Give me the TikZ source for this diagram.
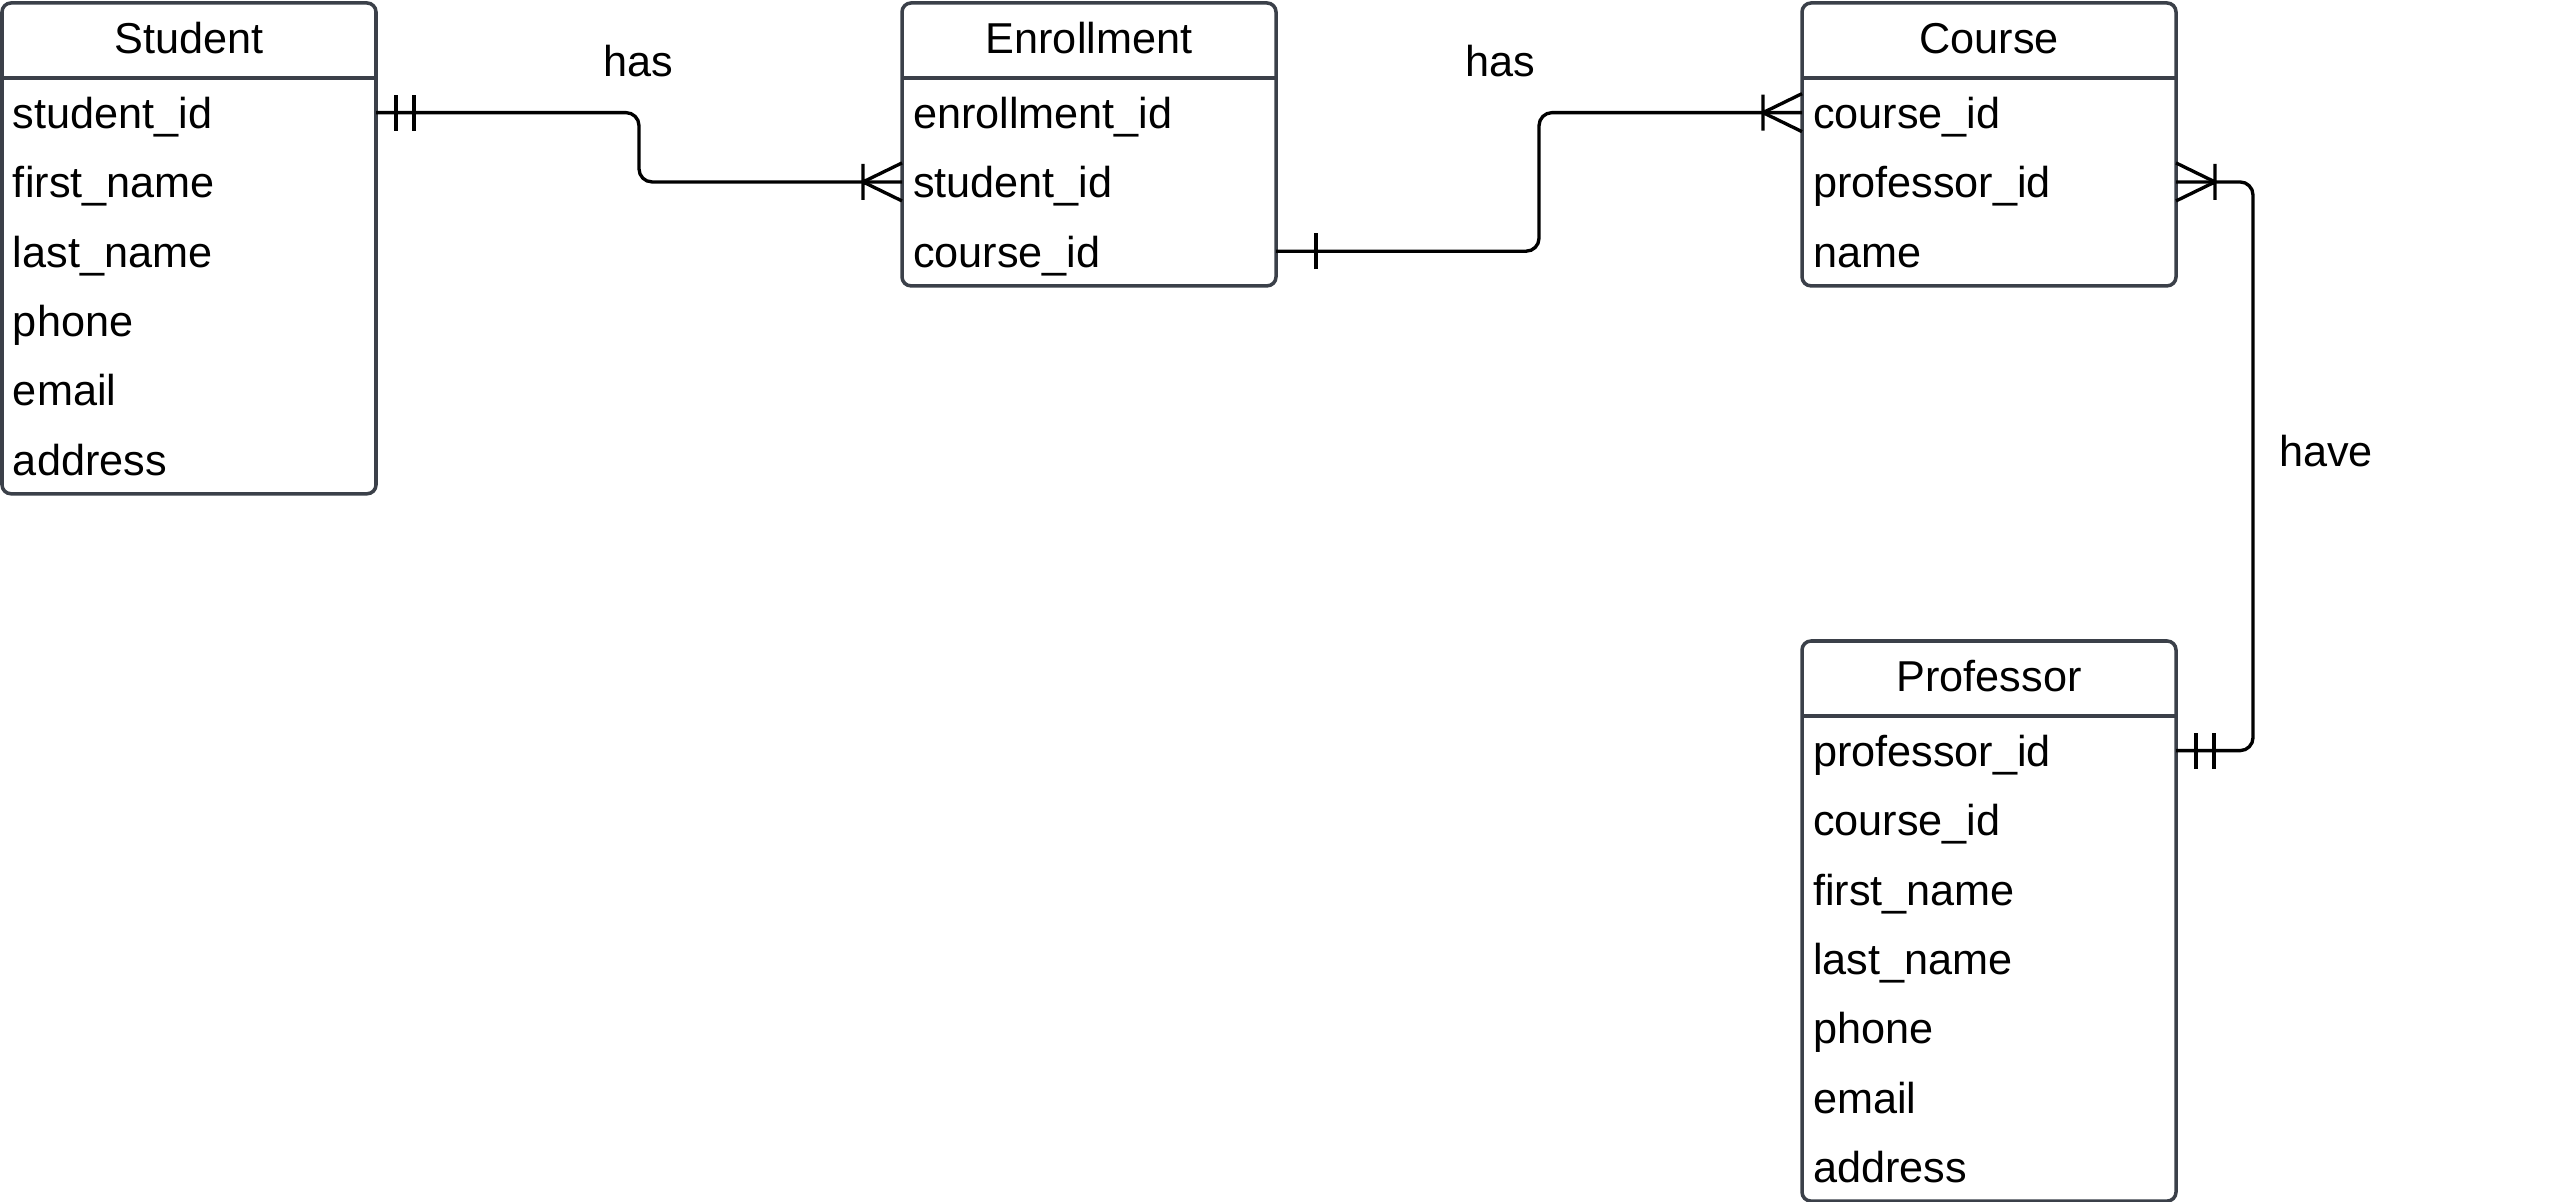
\documentclass[tikz,border=0pt]{standalone}
\usepackage{fontspec}
\setmainfont{Liberation Sans}
\usepackage{xcolor}
\usetikzlibrary{positioning,calc}
\definecolor{framegray}{HTML}{3B4049}
\newcommand\erfont{\fontsize{12.3}{14}\selectfont}

\begin{document}
\begin{tikzpicture}[
  head/.style={anchor=north west, minimum width=3.74cm, minimum height=0.75cm,
               inner sep=0pt, outer sep=0pt, text height=9.6pt, text depth=2pt, font=\erfont},
  field/.style={inner xsep=0.11cm, inner ysep=0pt, outer sep=0pt, text width=3.52cm,
                minimum height=0.693cm, align=left, text height=10.3pt,
                text depth=1.2pt, font=\erfont},
  frame/.style={draw=framegray, line width=1pt, rounded corners=0.09cm},
  conn/.style={draw=black, line width=0.95pt},
  lbl/.style={font=\erfont},
  pics/mandone/.style={code={\draw[conn] (0.2,-0.18) -- (0.2,0.18) (0.38,-0.18) -- (0.38,0.18);}},
  pics/justone/.style={code={\draw[conn] (0.4,-0.18) -- (0.4,0.18);}},
  pics/onemany/.style={code={\draw[conn] (0,-0.19) -- (0.39,0) -- (0,0.19) (0.39,-0.18) -- (0.39,0.18);}}
]
\useasboundingbox (0,0) rectangle (25.52,-12.02);
% Student
\node[head] (stu) at (0.02,-0.03) {Student};
\node[field, below=0pt of stu]   (stu-1) {student\_id};
\node[field, below=0pt of stu-1] (stu-2) {first\_name};
\node[field, below=0pt of stu-2] (stu-3) {last\_name};
\node[field, below=0pt of stu-3] (stu-4) {phone};
\node[field, below=0pt of stu-4] (stu-5) {email};
\node[field, below=0pt of stu-5] (stu-6) {address};
\draw[frame] (stu.north west) rectangle (stu-6.south east);
\draw[frame] (stu.south west) -- (stu.south east);
% Enrollment
\node[head] (enr) at (9.02,-0.03) {Enrollment};
\node[field, below=0pt of enr]   (enr-1) {enrollment\_id};
\node[field, below=0pt of enr-1] (enr-2) {student\_id};
\node[field, below=0pt of enr-2] (enr-3) {course\_id};
\draw[frame] (enr.north west) rectangle (enr-3.south east);
\draw[frame] (enr.south west) -- (enr.south east);
% Course
\node[head] (crs) at (18.02,-0.03) {Course};
\node[field, below=0pt of crs]   (crs-1) {course\_id};
\node[field, below=0pt of crs-1] (crs-2) {professor\_id};
\node[field, below=0pt of crs-2] (crs-3) {name};
\draw[frame] (crs.north west) rectangle (crs-3.south east);
\draw[frame] (crs.south west) -- (crs.south east);
% Professor
\node[head] (prof) at (18.02,-6.41) {Professor};
\node[field, below=0pt of prof]   (prof-1) {professor\_id};
\node[field, below=0pt of prof-1] (prof-2) {course\_id};
\node[field, below=0pt of prof-2] (prof-3) {first\_name};
\node[field, below=0pt of prof-3] (prof-4) {last\_name};
\node[field, below=0pt of prof-4] (prof-5) {phone};
\node[field, below=0pt of prof-5] (prof-6) {email};
\node[field, below=0pt of prof-6] (prof-7) {address};
\draw[frame] (prof.north west) rectangle (prof-7.south east);
\draw[frame] (prof.south west) -- (prof.south east);
% Relationships
\coordinate (m1) at ($(stu-1.east)!0.5!(enr-2.west)$);
\coordinate (m2) at ($(enr-3.east)!0.5!(crs-1.west)$);
\draw[conn, rounded corners=0.13cm] (stu-1.east) -| (m1) |- (enr-2.west);
\draw[conn, rounded corners=0.13cm] (enr-3.east) -| (m2) |- (crs-1.west);
\draw[conn, rounded corners=0.13cm] (crs-2.east) -- ++(0.77,0) |- (prof-1.east);
\pic at (stu-1.east) {mandone};
\pic[rotate=180] at (enr-2.west) {onemany};
\pic at (enr-3.east) {justone};
\pic[rotate=180] at (crs-1.west) {onemany};
\pic at (crs-2.east) {onemany};
\pic at (prof-1.east) {mandone};
% Labels
\node[lbl] (has1) at (6.38,-0.61) {has};
\node[lbl] (has2) at (15.0,-0.61) {has};
\node[lbl] (have) at (23.26,-4.51) {have};
\end{tikzpicture}
\end{document}
